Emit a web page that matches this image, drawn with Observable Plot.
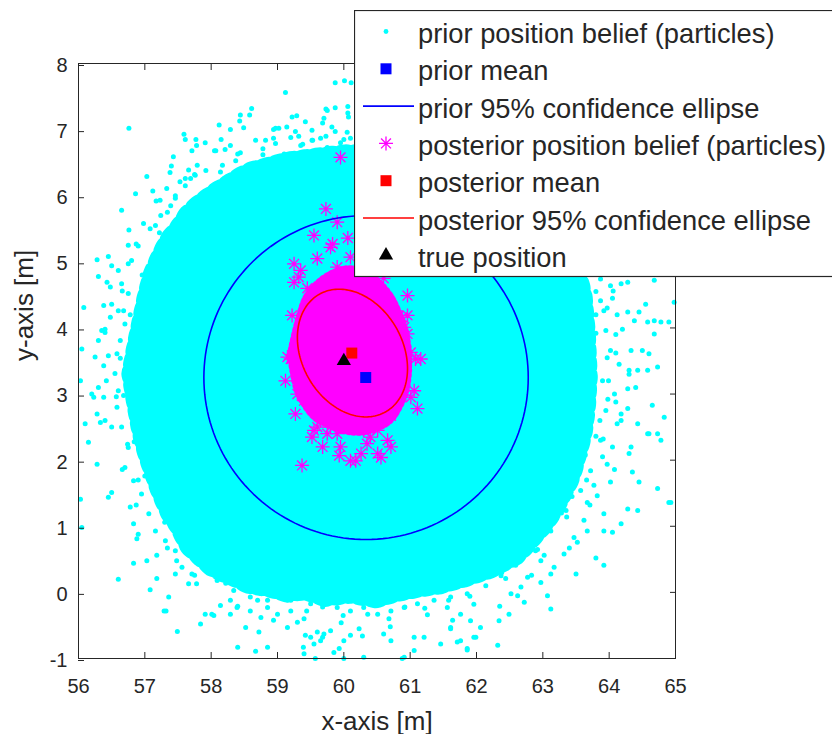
<!DOCTYPE html>
<html>
<head>
<meta charset="utf-8">
<script src="https://cdn.jsdelivr.net/npm/d3@7"></script>
<script src="https://cdn.jsdelivr.net/npm/@observablehq/plot@0.6"></script>
<style>
html, body { margin: 0; padding: 0; background: #fff; overflow: hidden; }
#wrap { position: relative; width: 832px; height: 734px; overflow: hidden; }
#legend { position: absolute; left: 354px; top: 10px; }
</style>
</head>
<body>
<div id="wrap"><div id="chart"></div><div id="legend"></div></div>
<script>
// ---------- data ----------
const xTicks = [56, 57, 58, 59, 60, 61, 62, 63, 64, 65];
const yTicks = [-1, 0, 1, 2, 3, 4, 5, 6, 7, 8];

// dense body of the prior particle cloud (outline)
const priorCoreX  = [56.88, 56.96, 57.03, 57.12, 57.20, 57.32, 57.45, 57.58, 57.74, 57.91, 58.10, 58.34, 58.60, 58.87, 59.15, 59.44, 59.73,
                     60.11, 60.49, 60.78, 61.08, 61.45, 61.80, 62.16, 62.57, 62.78, 62.99, 63.17, 63.36, 63.45, 63.53, 63.58, 63.61];
const priorCoreLo = [3.30, 2.82, 2.44, 2.10, 1.87, 1.53, 1.24, 1.05, 0.74, 0.58, 0.41, 0.32, 0.19, 0.15, 0.07, 0.10, 0.00,
                     0.05, -0.02, 0.07, 0.13, 0.19, 0.29, 0.41, 0.62, 0.86, 1.10, 1.39, 1.77, 2.10, 2.39, 2.77, 3.25];
const priorCoreHi = [3.30, 3.73, 4.06, 4.49, 4.78, 5.06, 5.30, 5.45, 5.69, 5.83, 5.97, 6.12, 6.28, 6.35, 6.43, 6.47, 6.51,
                     6.55, 6.53, 6.50, 6.47, 6.40, 6.31, 6.16, 5.92, 5.78, 5.54, 5.30, 5.06, 4.78, 4.49, 3.92, 3.25];

// ragged fringe of the prior cloud (particles along its edge)
const priorFringe = [
  [63.90,3.20],[63.80,3.92],[63.70,4.40],[60.30,6.84],[59.75,6.73],[59.10,6.63],[58.60,6.30],[58.02,6.00],[57.64,5.50],[57.22,5.07],
  [57.02,4.42],[56.80,3.90],[56.80,3.20],[56.86,2.60],[56.96,2.08],[57.30,1.45],[57.58,1.00],[58.08,0.50],[58.52,0.20],[59.15,-0.12],
  [59.68,-0.22],[60.36,-0.33],[60.92,-0.22],[61.58,-0.12],[62.07,0.22],[62.65,0.50],[63.02,1.00],[63.44,1.45],[63.64,2.08],[63.86,2.60],
  [64.10,3.62],[63.92,4.26],[60.05,6.96],[59.32,6.90],[58.78,6.62],[58.14,6.36],[57.72,5.86],[57.22,5.44],[56.96,4.80],[56.68,4.26],
  [56.63,3.54],[56.57,2.96],[56.74,2.24],[56.90,1.70],[57.30,1.06],[57.64,0.64],[58.22,0.14],[58.70,-0.12],[59.40,-0.40],[59.96,-0.46],
  [60.70,-0.52],[61.26,-0.34],[61.96,-0.18],[62.44,0.21],[63.02,0.56],[63.36,1.14],[63.77,1.62],[63.91,2.32],[64.10,2.88],
  [64.30,3.30],[64.20,3.98],[64.06,4.56],[60.28,7.23],[59.68,7.10],[58.94,7.00],[58.40,6.63],[57.75,6.32],[57.34,5.75],[56.87,5.27],
  [56.66,4.56],[56.40,3.98],[56.42,3.20],[56.40,2.60],[56.66,1.86],[56.87,1.32],[57.34,0.67],[57.75,0.26],[58.40,-0.21],[58.94,-0.42],
  [59.68,-0.68],[60.28,-0.66],[61.06,-0.68],[61.64,-0.42],[62.35,-0.21],[62.83,0.26],[63.40,0.67],[63.71,1.32],[64.08,1.86],[64.18,2.60],
  [63.97,3.55],[63.80,4.20],[60.00,6.85],[59.38,6.78],[58.83,6.52],[58.20,6.26],[57.80,5.78],[57.31,5.36],[57.05,4.74],[56.78,4.20],
  [56.74,3.52],[56.68,2.98],[56.84,2.28],[57.00,1.76],[57.38,1.13],[57.72,0.72],[58.28,0.24],[58.76,-0.02],[59.44,-0.28],[59.99,-0.35],
  [60.68,-0.40],[61.22,-0.24],[61.90,-0.06],[62.38,0.30],[62.92,0.65],[63.28,1.20],[63.66,1.70],[63.80,2.36],[63.98,2.92]
];

// sparse prior particles around the cloud
const priorParticles = [
  [56.76,7.02],[59.12,7.56],[59.87,7.71],[60.01,7.74],[60.11,7.71],[60.06,7.35],[59.87,7.33],[59.73,7.31],[58.61,7.32],[58.44,7.22],
  [58.58,7.22],[58.12,7.07],[58.29,7.00],[58.43,7.13],[58.49,7.03],[57.59,6.93],[57.61,6.85],[57.77,6.85],[57.91,6.80],[57.71,6.68],
  [57.78,6.76],[57.43,6.59],[57.40,6.45],[57.38,6.35],[57.03,6.29],[56.86,6.03],[57.12,6.07],[57.17,5.92],[57.23,5.93],[57.33,6.11],
  [57.46,5.96],[56.65,5.78],[56.98,5.58],[57.08,5.50],[56.76,5.48],[56.75,5.25],[56.90,5.24],[56.28,5.03],[56.45,5.08],[57.66,6.39],
  [57.79,6.46],[57.53,6.21],[57.61,6.26],[58.15,6.85],[58.05,6.68],[58.21,6.70],[59.02,7.02],[59.22,7.19],[59.29,7.21],[59.42,7.12],
  [59.52,6.99],[59.70,7.17],[59.75,7.29],[59.87,6.97],[60.07,7.19],[60.06,7.25],[58.82,6.84],[58.97,7.02],[58.94,6.87],[59.14,7.04],
  [59.27,6.97],[59.52,6.84],[59.65,6.87],[59.82,7.04],
  [58.07,6.68],[58.29,6.76],[58.44,6.65],[58.67,6.84],[58.78,6.71],[58.97,6.79],[59.20,6.88],[59.35,6.76],[59.53,6.84],[59.73,6.90],
  [59.95,6.80],[60.10,6.87],[58.17,6.46],[58.37,6.53],[57.92,6.38],[57.76,6.31],[57.61,6.15],[57.69,6.26],[57.46,6.00],[57.39,5.85],
  [57.24,5.70],[57.16,5.55],
  [56.50,4.94],[56.60,4.87],[56.75,4.97],[56.80,5.02],[56.30,4.78],[56.43,4.69],[56.48,4.62],[56.08,4.31],[56.38,4.34],[56.50,4.36],
  [56.48,4.16],[56.35,3.96],[56.30,3.81],[56.40,3.93],[56.05,3.68],[56.25,3.56],[56.38,3.43],[56.45,3.58],[56.03,3.20],[56.20,3.00],
  [56.23,2.95],[56.38,2.95],[56.30,3.10],[56.10,2.55],[56.33,2.57],[56.15,2.27],[56.28,2.70],[56.50,2.50],[56.28,1.94],[56.45,1.44],
  [56.50,1.51],[56.03,1.41],[56.05,0.98],[56.78,1.29],[56.83,1.04],[56.88,0.81],[56.90,0.88],[56.83,0.44],[57.03,0.48],[57.18,0.56],
  [56.60,0.20],[57.08,0.04],[57.18,0.21],[57.36,-0.07],[57.32,-0.28],[57.48,0.48],[57.46,0.28],[57.66,0.13],[57.78,0.13],[57.91,-0.33],
  [58.01,-0.33],
  [56.65,4.67],[56.75,4.52],[56.60,4.26],[56.70,4.06],[56.63,3.81],[56.58,3.61],[56.55,3.31],[56.60,3.05],[56.58,2.80],[56.65,2.50],
  [56.75,2.19],[56.70,1.89],[56.83,1.69],[56.95,1.49],[57.06,1.19],[57.16,0.93],[57.31,0.78],[57.46,0.63],[57.56,0.38],[57.71,0.28],
  [57.49,-0.59],[57.29,-0.28],[57.84,-0.48],[58.04,-0.35],[58.14,-0.20],[58.29,-0.33],[58.40,-0.83],[58.67,-0.89],[58.85,-0.83],[58.52,-0.53],
  [58.72,-0.60],[59.39,-0.83],[59.40,-0.93],[59.57,-1.00],[60.00,-1.00],[60.30,-0.98],[59.85,-0.91],[59.93,-0.85],[60.88,-1.00],[59.50,-0.68],
  [59.65,-0.73],[59.70,-0.63],[59.15,-0.53],[59.30,-0.45],[59.42,-0.65],[59.55,-0.78],[59.60,-0.60],[59.80,-0.58],[60.00,-0.73],[60.10,-0.65],
  [60.23,-0.55],[60.60,-0.63],[60.71,-0.73],[60.91,-0.98],[61.06,-0.88],[61.21,-0.68],[61.46,-0.78],[61.61,-0.55],[61.76,-0.73],[61.86,-0.85],
  [61.99,-0.68],[58.29,-0.12],[58.39,-0.23],[58.59,-0.28],[58.75,-0.38],[58.85,-0.23],[59.00,-0.33],[59.20,-0.28],
  [58.59,-0.07],[58.85,-0.12],[59.20,-0.12],[59.50,-0.17],[59.70,-0.12],[59.90,-0.23],[60.10,-0.28],[60.30,-0.23],[60.51,-0.33],[60.71,-0.28],
  [60.91,-0.23],[61.11,-0.17],[61.36,-0.12],[61.61,-0.07],[61.86,-0.02],[58.34,0.03],[58.09,0.18],
  [64.60,2.40],[64.78,2.30],[64.93,1.36],[64.73,1.57],[64.35,1.82],[64.45,1.67],[64.28,1.26],[64.43,1.24],[64.18,1.04],[64.05,0.91],
  [63.92,0.93],[63.80,0.52],[63.92,0.41],[63.50,0.28],[63.12,-0.25],[63.07,-0.05],[62.97,0.15],[62.72,-0.15],[62.62,-0.05],[62.32,-0.80],
  [61.86,-0.87],[61.96,-0.68],[61.71,-0.75],[61.61,-0.53],[64.30,2.10],[64.33,2.20],[63.97,1.94],[64.02,1.67],[63.82,1.46],[63.67,1.36],
  [63.92,1.19],[63.62,1.09],[63.67,0.93],[63.47,0.83],[63.52,0.76],[63.32,0.58],[63.17,0.38],[62.97,0.48],[63.12,0.28],[62.77,0.23],
  [62.67,0.08],[62.52,-0.02],[62.49,-0.33],[62.34,-0.43],[62.06,-0.53],[61.91,-0.43],[61.76,-0.33],[61.56,-0.23],[64.90,1.36],
  [64.98,4.39],[64.90,4.09],[64.78,4.09],[64.68,4.11],[64.58,4.09],[64.68,3.91],[64.55,4.36],[64.45,4.24],[64.28,4.24],[64.38,4.11],
  [64.33,3.66],[64.50,3.66],[64.60,3.61],[64.73,3.41],[64.58,3.36],[64.43,3.36],[64.30,3.36],[64.28,3.08],[64.40,3.10],[64.65,2.83],
  [64.83,2.65],[64.73,2.40],[64.58,2.40],[64.43,2.55],[64.28,2.78],[64.18,2.70],[63.87,4.74],[64.02,4.64],[64.18,4.67],[64.28,4.69],
  [64.68,4.72],
  [63.87,4.41],[63.95,3.96],[64.02,3.66],[63.99,3.20],[63.95,2.75],[63.87,2.30],[63.72,1.84],[63.57,1.54],[63.35,1.24],[63.12,0.93],
  [62.89,0.63],[62.59,0.41],[62.37,0.25],[62.14,0.10],
  [64.05,4.45],[64.12,4.20],[64.10,3.90],[64.15,3.45],[64.08,3.00],[64.12,2.55],[64.05,2.20],[63.90,2.05],[63.80,4.55],[63.97,4.30]
];

// dense body of the posterior particles
const postCoreX  = [59.20, 59.29, 59.42, 59.57, 59.80, 60.03, 60.25, 60.48, 60.71, 60.86, 60.96, 61.00];
const postCoreLo = [3.50, 3.05, 2.80, 2.62, 2.50, 2.42, 2.40, 2.45, 2.58, 2.80, 3.05, 3.35];
const postCoreHi = [3.66, 4.05, 4.45, 4.65, 4.82, 4.90, 4.88, 4.75, 4.50, 4.20, 3.90, 3.55];

// individually visible posterior particles
const postParticles = [
  [59.95,6.58],[59.73,5.80],[59.90,5.60],[59.55,5.40],[59.83,5.27],[59.80,5.22],[60.06,5.36],[59.25,4.97],[59.35,4.87],[59.25,4.69],
  [59.32,4.77],[60.96,4.49],[59.22,4.19],[60.88,4.16],[60.96,4.19],[60.10,5.07],[59.90,4.92],[60.15,4.82],[59.15,3.56],[59.12,3.20],
  [59.27,2.70],[59.55,2.45],[59.68,2.20],[59.37,1.92],[59.93,2.07],[59.95,2.20],[60.18,1.99],[60.26,2.10],[60.56,2.04],[60.66,2.30],
  [60.71,2.20],[61.01,2.95],[61.11,2.78],[61.06,3.05],[61.08,3.53],[61.01,3.63],[60.91,4.01],[60.96,3.91],[59.65,2.60],[59.80,2.50],
  [59.90,2.40],[60.10,2.50],[60.30,2.45],[60.40,2.35],[60.51,2.45],[59.40,2.90],[59.30,3.00],[61.16,3.53],[59.20,3.53],[60.71,2.67],
  [60.51,2.10],[60.35,2.25],[60.10,1.99],[59.75,2.40],[59.60,2.50],[59.52,2.35],[60.63,4.41],[60.76,4.21],[60.81,3.96],[59.60,5.05],
  [60.35,5.10],[60.45,4.95],[59.45,4.60],[60.60,4.75]
];

const priorMean = [[60.33, 3.25]];
const postMean  = [[60.12, 3.62]];
const truePosition = [[60.00, 3.50]];

// 95% confidence ellipses: centre and matrix [kxx, kxy, kyy]
const priorEllipseCenter = [60.335, 3.25];
const priorEllipseK      = [5.978, 0.0, 6.003];
const postEllipseCenter  = [60.13, 3.62];
const postEllipseK       = [0.689, -0.195, 0.933];

const legendLabels = [
  "prior position belief (particles)",
  "prior mean",
  "prior 95% confidence ellipse",
  "posterior position belief (particles)",
  "posterior mean",
  "posterior 95% confidence ellipse",
  "true position"
];

// ---------- helpers ----------
const ink = "#262626";
const font = "'Liberation Sans', Arial, Helvetica, sans-serif";
const CYAN = "#00FFFF", BLUE = "#0000FF", MAG = "#FF00FF", RED = "#FF0000";

function ellipsePoints(c, k) {
  const l11 = Math.sqrt(k[0]), l21 = k[1] / l11, l22 = Math.sqrt(k[2] - l21 * l21);
  return d3.range(0, 361, 2).map(a => {
    const t = a * Math.PI / 180;
    return {x: c[0] + l11 * Math.cos(t), y: c[1] + l21 * Math.cos(t) + l22 * Math.sin(t)};
  });
}
const starSymbol = {
  draw(ctx, size) {
    const r = Math.sqrt(size / Math.PI), d = r * Math.SQRT1_2;
    ctx.moveTo(-r, 0); ctx.lineTo(r, 0);
    ctx.moveTo(0, -r); ctx.lineTo(0, r);
    ctx.moveTo(-d, -d); ctx.lineTo(d, d);
    ctx.moveTo(-d, d); ctx.lineTo(d, -d);
  }
};

const priorCore = priorCoreX.map((x, i) => ({x, lo: priorCoreLo[i], hi: priorCoreHi[i]}));
const postCore = postCoreX.map((x, i) => ({x, lo: postCoreLo[i], hi: postCoreHi[i]}));

// ---------- chart ----------
const chart = Plot.plot({
  width: 832, height: 734,
  marginLeft: 78, marginRight: 157, marginTop: 63, marginBottom: 76,
  x: {domain: [56, 65]},
  y: {domain: [-1, 8]},
  style: {fontFamily: font, color: ink, background: "white", overflow: "visible"},
  marks: [
    // fuzzy outer edge of the dense cloud (dotted rims on the outline)
    Plot.areaY(priorCore, {x: "x", y1: "lo", y2: "hi", fill: "none", stroke: CYAN, strokeWidth: 30, strokeDasharray: "3 10", strokeDashoffset: 4}),
    Plot.areaY(priorCore, {x: "x", y1: "lo", y2: "hi", fill: "none", stroke: CYAN, strokeWidth: 18, strokeDasharray: "4 5"}),
    Plot.areaY(priorCore, {x: "x", y1: "lo", y2: "hi", fill: CYAN}),
    Plot.dot(priorFringe, {x: d => d[0], y: d => d[1], r: 2.5, fill: CYAN, stroke: null}),
    Plot.dot(priorParticles, {x: d => d[0], y: d => d[1], r: 2.5, fill: CYAN, stroke: null}),
    Plot.areaY(postCore, {x: "x", y1: "lo", y2: "hi", fill: MAG, stroke: MAG, strokeWidth: 5, strokeDasharray: "2 3", curve: "catmull-rom"}),
    Plot.dot(postParticles, {x: d => d[0], y: d => d[1], r: 7, symbol: starSymbol, fill: "none", stroke: MAG, strokeWidth: 1.3}),
    Plot.line(ellipsePoints(priorEllipseCenter, priorEllipseK), {x: "x", y: "y", stroke: BLUE, strokeWidth: 1.6}),
    Plot.line(ellipsePoints(postEllipseCenter, postEllipseK), {x: "x", y: "y", stroke: RED, strokeWidth: 1.6}),
    Plot.dot(priorMean, {x: d => d[0], y: d => d[1], symbol: "square", r: 6.2, fill: BLUE, stroke: null}),
    Plot.dot(postMean, {x: d => d[0], y: d => d[1], symbol: "square", r: 6.2, fill: RED, stroke: null}),
    Plot.dot(truePosition, {x: d => d[0], y: d => d[1], symbol: "triangle", r: 5.3, fill: "black", stroke: null}),
    Plot.frame({stroke: ink, strokeWidth: 1}),
    Plot.axisX(xTicks, {anchor: "bottom", tickSize: -6, tickPadding: 26, fontSize: 20, tickFormat: d => String(d), label: null}),
    Plot.axisX(xTicks, {anchor: "top", tickSize: -6, tickFormat: () => "", label: null}),
    Plot.axisY(yTicks, {anchor: "left", tickSize: -6, tickPadding: 17, fontSize: 20, dy: 2, tickFormat: d => String(d), label: null}),
    Plot.axisY(yTicks, {anchor: "right", tickSize: -6, tickFormat: () => "", label: null}),
    Plot.text(["x-axis [m]"], {frameAnchor: "bottom", dy: 71, lineAnchor: "bottom", fontSize: 26, fill: ink}),
    Plot.text(["y-axis [m]"], {frameAnchor: "left", dx: -54, rotate: -90, fontSize: 26, fill: ink})
  ]
});
document.getElementById("chart").appendChild(chart);

// ---------- legend (overlay box, as in the original) ----------
const lg = d3.select("#legend").append("svg")
  .attr("width", 478).attr("height", 268)
  .style("display", "block").style("font-family", font);
lg.append("rect").attr("x", 0.5).attr("y", 0.5).attr("width", 520).attr("height", 266)
  .attr("fill", "white").attr("stroke", ink).attr("stroke-width", 1.2);
legendLabels.forEach((label, i) => {
  const cy = 21.5 + 37.3 * i, cx = 32;
  const g = lg.append("g");
  if (i === 0) g.append("circle").attr("cx", cx).attr("cy", cy).attr("r", 2.4).attr("fill", CYAN);
  if (i === 1) g.append("rect").attr("x", cx - 5.5).attr("y", cy - 5.5).attr("width", 11).attr("height", 11).attr("fill", BLUE);
  if (i === 2) g.append("line").attr("x1", 9).attr("x2", 60).attr("y1", cy).attr("y2", cy).attr("stroke", BLUE).attr("stroke-width", 1.6);
  if (i === 3) g.append("path").attr("transform", `translate(${cx},${cy})`)
      .attr("d", d3.symbol(starSymbol, Math.PI * 49)()).attr("fill", "none").attr("stroke", MAG).attr("stroke-width", 1.3);
  if (i === 4) g.append("rect").attr("x", cx - 5.5).attr("y", cy - 5.5).attr("width", 11).attr("height", 11).attr("fill", RED);
  if (i === 5) g.append("line").attr("x1", 9).attr("x2", 60).attr("y1", cy).attr("y2", cy).attr("stroke", RED).attr("stroke-width", 1.6);
  if (i === 6) g.append("path").attr("transform", `translate(${cx},${cy})`)
      .attr("d", d3.symbol(d3.symbolTriangle, Math.PI * 5.3 * 5.3)()).attr("fill", "black");
  g.append("text").attr("x", 64).attr("y", cy + 11.5).attr("font-size", 27.3).attr("fill", ink).text(label);
});
</script>
</body>
</html>
